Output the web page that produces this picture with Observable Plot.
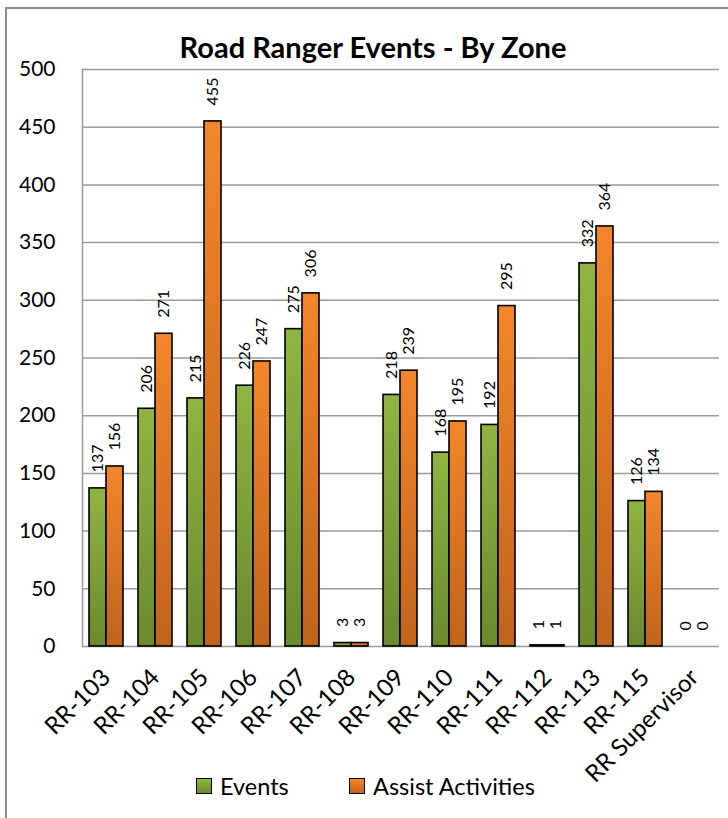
<!DOCTYPE html>
<html>
<head>
<meta charset="utf-8">
<script src="https://cdn.jsdelivr.net/npm/d3@7"></script>
<script src="https://cdn.jsdelivr.net/npm/@observablehq/plot@0.6"></script>
<style>
  html, body { margin: 0; padding: 0; background: #fff; }
  body { width: 728px; height: 818px; position: relative; overflow: hidden; font-family: Lato, "Open Sans", sans-serif; }
  #frame { position: absolute; left: 5px; top: 7px; width: 760px; height: 830px; border: 2px solid #8c8c8c; box-sizing: border-box; }
  #title { position: absolute; left: 0; width: 746px; top: 29px; text-align: center; font-size: 29px; font-weight: bold; color: #000; }
  #chart { position: absolute; left: 0; top: 0; }
  #legend { position: absolute; top: 772px; left: 0; width: 728px; font-size: 23.5px; color: #000; }
  .item { position: absolute; display: flex; align-items: center; }
  .sw { width: 14px; height: 14px; border: 1.5px solid #000; margin-right: 8px; }
</style>
</head>
<body>
<div id="frame"></div>
<div id="chart"></div>
<div id="title">Road Ranger Events - By Zone</div>
<div id="legend">
  <div class="item" style="left:196px"><div class="sw" style="background:linear-gradient(#8fb542,#6a8a2e)"></div>Events</div>
  <div class="item" style="left:349px"><div class="sw" style="background:linear-gradient(#f4862a,#c0641c)"></div>Assist Activities</div>
</div>
<script>
const zones = ["RR-103","RR-104","RR-105","RR-106","RR-107","RR-108","RR-109","RR-110","RR-111","RR-112","RR-113","RR-115","RR Supervisor"];
const events = [137, 206, 215, 226, 275, 3, 218, 168, 192, 1, 332, 126, 0];
const assists = [156, 271, 455, 247, 306, 3, 239, 195, 295, 1, 364, 134, 0];
const yTicks = [0, 50, 100, 150, 200, 250, 300, 350, 400, 450, 500];

const evData = zones.map((z, i) => ({zone: z, value: events[i]}));
const asData = zones.map((z, i) => ({zone: z, value: assists[i]}));

const half = 17;
const plot = Plot.plot({
  width: 728,
  height: 818,
  marginTop: 69,
  marginBottom: 172,
  marginLeft: 82,
  marginRight: 9,
  style: {fontFamily: "Lato, 'Open Sans', sans-serif", background: "transparent", color: "#000"},
  x: {domain: zones, paddingInner: 0.306, paddingOuter: 0.143, axis: null, label: null},
  y: {domain: [0, 500], axis: null, label: null},
  marks: [
    Plot.ruleY(yTicks, {stroke: "#9a9a9a", strokeWidth: 1.5}),
    Plot.frame({anchor: "left", stroke: "#9a9a9a", strokeWidth: 1.5}),
    Plot.axisY(yTicks, {tickSize: 0, tickPadding: 27, fontSize: 21, label: null}),
    Plot.axisX({tickSize: 0, tickPadding: 27, tickRotate: -45, fontSize: 24, label: null}),
    Plot.barY(evData, {x: "zone", y: "value", insetRight: half, fill: "url(#gGreen)", stroke: "#000", strokeWidth: 1.6}),
    Plot.barY(asData, {x: "zone", y: "value", insetLeft: half, fill: "url(#gOrange)", stroke: "#000", strokeWidth: 1.6}),
    Plot.text(evData, {x: "zone", y: "value", text: d => String(d.value), dx: -8.5, dy: -16, rotate: -90, textAnchor: "start", lineAnchor: "middle", fontSize: 16}),
    Plot.text(asData, {x: "zone", y: "value", text: d => String(d.value), dx: 8.5, dy: -16, rotate: -90, textAnchor: "start", lineAnchor: "middle", fontSize: 16})
  ]
});

const ns = "http://www.w3.org/2000/svg";
const defs = document.createElementNS(ns, "defs");
defs.innerHTML = `
  <linearGradient id="gGreen" x1="0" y1="0" x2="0" y2="1">
    <stop offset="0" stop-color="#8fb542"/><stop offset="1" stop-color="#6a8a2e"/>
  </linearGradient>
  <linearGradient id="gOrange" x1="0" y1="0" x2="0" y2="1">
    <stop offset="0" stop-color="#f4862a"/><stop offset="1" stop-color="#c0641c"/>
  </linearGradient>`;
plot.insertBefore(defs, plot.firstChild);
document.getElementById("chart").appendChild(plot);
</script>
</body>
</html>
